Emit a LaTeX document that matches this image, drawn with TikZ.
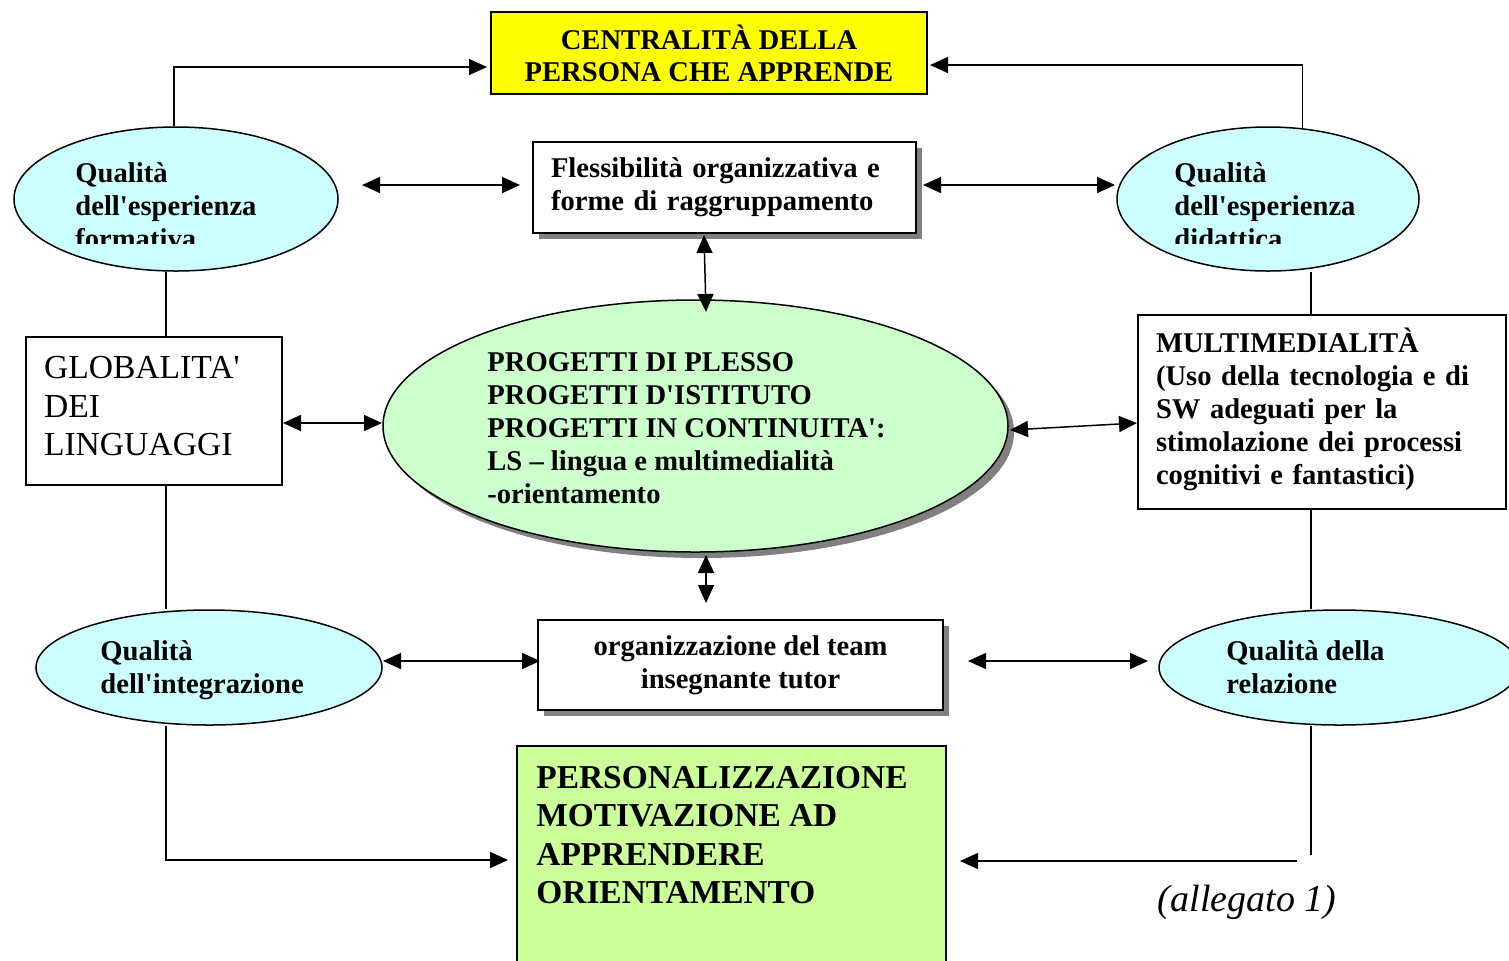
\documentclass[tikz,border=0pt]{standalone}
\usepackage{fontspec}
\setmainfont{Liberation Serif}
\usetikzlibrary{shapes.geometric,arrows.meta,shadows,backgrounds}

\definecolor{giallo}{HTML}{FFFF00}
\definecolor{azzurro}{HTML}{CCFFFF}
\definecolor{verdino}{HTML}{CCFFCC}
\definecolor{verde}{HTML}{CCFF99}
\definecolor{grigio}{HTML}{808080}

\newcommand{\grassetto}{\fontsize{14.3}{16.5}\selectfont\bfseries}
\newcommand{\grande}{\fontsize{16.7}{19.25}\selectfont\bfseries}
\newcommand{\normale}{\fontsize{16.8}{19.25}\selectfont}
\newcommand{\corsivo}{\fontsize{19}{20}\selectfont\itshape}
\newcommand{\ap}{\textquotesingle}

\begin{document}
\begin{tikzpicture}[x=0.5pt,y=-0.5pt,
    box/.style={draw, line width=0.75pt, inner sep=0pt},
    oval/.style={ellipse, draw, line width=0.75pt, fill=azzurro, inner sep=0pt},
    ombra/.style={drop shadow={shadow xshift=3pt, shadow yshift=-3pt, fill=grigio, opacity=1}},
    txt/.style={inner sep=0pt, align=left, anchor=west, font=\grassetto},
    lin/.style={line width=0.75pt},
    arr/.style={-{Triangle[length=9pt,width=8pt]}, line width=0.75pt},
    darr/.style={{Triangle[length=9pt,width=8pt]}-{Triangle[length=9pt,width=8pt]}, line width=0.75pt}]
    \useasboundingbox (0,0) rectangle (1509,960);
    \clip (0,0) rectangle (1509,960);

    % riquadri e ovali
    \node[box, fill=giallo, minimum width=218pt, minimum height=41pt, align=center, font=\fontsize{14.3}{16}\selectfont\bfseries] (cen) at (709,53) {CENTRALITÀ DELLA\\PERSONA CHE APPRENDE};
    \node[box, fill=white, ombra, minimum width=191.5pt, minimum height=45.5pt, text width=173.5pt, inner xsep=9pt, align=left, font=\grassetto] (fle) at (724.5,187.5) {Flessibilità organizzativa e\\forme di raggruppamento};
    \node[oval, minimum width=162pt, minimum height=72pt] (qf) at (176,199) {};
    \node[oval, minimum width=151pt, minimum height=72pt] (qd) at (1268,199) {};
    \node[box, fill=white, minimum width=128pt, minimum height=74pt, text width=110pt, inner xsep=9pt, align=left, font=\normale] (glo) at (154,411) {GLOBALITA\ap\\DEI\\LINGUAGGI\rule[-5pt]{0pt}{5pt}};
    \node[oval, fill=verdino, ombra, minimum width=312.5pt, minimum height=126pt] (pro) at (695.5,426) {};
    \node[box, fill=white, minimum width=184pt, minimum height=97pt, text width=166pt, inner xsep=9pt, align=left, font=\grassetto] (mul) at (1322,412) {MULTIMEDIALITÀ\\(Uso della tecnologia e di\\SW adeguati per la\\stimolazione dei processi\\cognitivi e fantastici)\rule[-6pt]{0pt}{6pt}};
    \node[oval, minimum width=173pt, minimum height=57.5pt] (qi) at (209,667.5) {};
    \node[box, fill=white, ombra, minimum width=202.5pt, minimum height=45pt, align=center, font=\grassetto] (org) at (740.5,665) {organizzazione del team\\insegnante tutor};
    \node[oval, minimum width=180pt, minimum height=57.5pt] (qr) at (1339,667.5) {};
    \node[box, fill=verde, minimum width=214.5pt, minimum height=114.5pt] (per) at (731.5,860.5) {};

    % testi
    \begin{scope}
        \clip (60,140) rectangle (300,243);
        \node[txt] (qft) at (75,205.5) {Qualità\\dell\ap esperienza\\formativa};
    \end{scope}
    \begin{scope}
        \clip (1160,140) rectangle (1400,243);
        \node[txt] (qdt) at (1174,205.5) {Qualità\\dell\ap esperienza\\didattica};
    \end{scope}
    \node[txt] (prt) at (487,428) {PROGETTI DI PLESSO\\PROGETTI D\ap ISTITUTO\\PROGETTI IN CONTINUITA\ap:\\LS -- lingua e multimedialità\\-orientamento};
    \node[txt] (qit) at (100,670.5) {Qualità\\dell\ap integrazione};
    \node[txt] (qrt) at (1226,667.5) {Qualità della\\relazione};
    \node[txt, font=\grande] (pert) at (536,835) {PERSONALIZZAZIONE\\MOTIVAZIONE AD\\APPRENDERE\\ORIENTAMENTO};
    \node[inner sep=0pt, font=\corsivo] (all) at (1247,902) {(allegato 1)};

    % punti liberi
    \coordinate (lx) at (166,0);
    \coordinate (rx) at (1311,0);
    \coordinate (a1) at (487,67);
    \coordinate (a2) at (930,65);
    \coordinate (b1) at (362,185);
    \coordinate (b2) at (520,185);
    \coordinate (b3) at (923,185);
    \coordinate (b4) at (1115,185);
    \coordinate (b5) at (704,235);
    \coordinate (b6) at (706,312);
    \coordinate (b7) at (283,423);
    \coordinate (b8) at (382,423);
    \coordinate (b9) at (1010,430);
    \coordinate (b10) at (1137,423);
    \coordinate (b11) at (706,555);
    \coordinate (b12) at (706,603);
    \coordinate (b13) at (383,661);
    \coordinate (b14) at (540,661);
    \coordinate (b15) at (968,661);
    \coordinate (b16) at (1148,661);
    \coordinate (c1) at (508,860);
    \coordinate (c2) at (1311,855);
    \coordinate (c3) at (1297,861);
    \coordinate (c4) at (960,861);

    % collegamenti
    \draw[arr] (qf.north -| 174,0) |- (a1);
    \draw[arr] (qd.64) |- (a2);
    \draw[darr] (b1) -- (b2);
    \draw[darr] (b3) -- (b4);
    \draw[darr] (b5) -- (b6);
    \draw[darr] (b7) -- (b8);
    \draw[darr] (b9) -- (b10);
    \draw[darr] (b11) -- (b12);
    \draw[darr] (b13) -- (b14);
    \draw[darr] (b15) -- (b16);
    \draw[arr] (qi.south -| lx) |- (c1);
    \draw[lin] (qr.south -| c2) -- (c2);
    \draw[arr] (c3) -- (c4);

    \begin{scope}[on background layer]
        \draw[lin] (qf.south -| lx) -- (glo.north -| lx);
        \draw[lin] (glo.south -| lx) -- (qi.north -| lx);
        \draw[lin] (qd.south -| rx) -- (mul.north -| rx);
        \draw[lin] (mul.south -| rx) -- (qr.north -| rx);
    \end{scope}
\end{tikzpicture}
\end{document}
